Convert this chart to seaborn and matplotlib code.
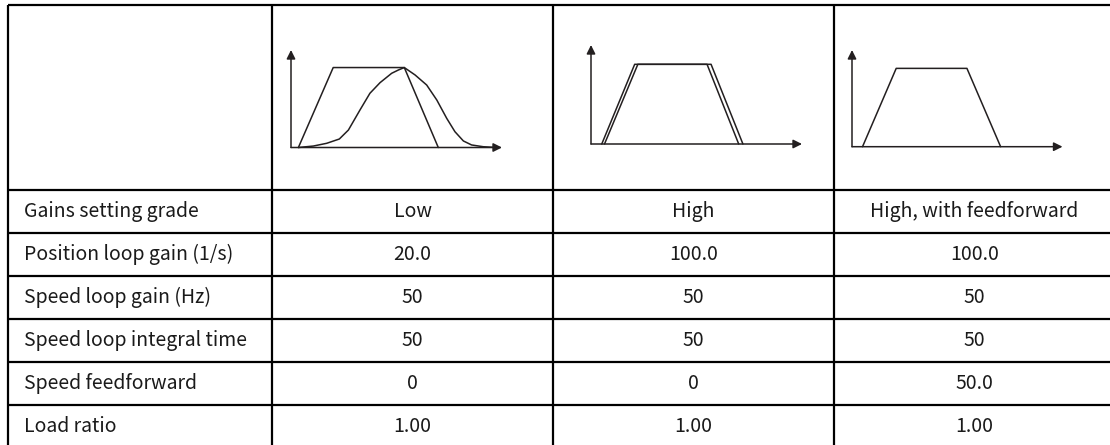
import matplotlib
matplotlib.use("Agg")
import matplotlib.pyplot as plt
import seaborn as sns

sns.set_theme(style="white")
plt.rcParams["font.family"] = ["Noto Sans CJK SC", "DejaVu Sans"]

# Table content
row_labels = [
    "Gains setting grade",
    "Position loop gain (1/s)",
    "Speed loop gain (Hz)",
    "Speed loop integral time",
    "Speed feedforward",
    "Load ratio",
]
col_low = ["Low", "20.0", "50", "50", "0", "1.00"]
col_high = ["High", "100.0", "50", "50", "0", "1.00"]
col_ff = ["High, with feedforward", "100.0", "50", "50", "50.0", "1.00"]

# Speed profiles sketched in the header row (time %, speed %)
low_cmd_t = [3.5, 20, 53.7, 69.8]
low_cmd_v = [0, 82, 82, 0]
low_fb_t = [3.5, 10.6, 16.9, 22.9, 27.2, 32.7, 37.4, 42.2, 47.7, 50.9, 53.7,
            58.8, 64.3, 69.1, 73.8, 77.7, 81.7, 85.6, 91.1, 95.9]
low_fb_v = [0, 1.5, 4.3, 8.7, 17.9, 38.5, 55.6, 66.5, 76.1, 79.5, 82,
            74.4, 64.1, 48.7, 29.9, 16.2, 6.7, 2.6, 0.8, 0.2]
high_cmd_t = [5.1, 20.7, 55, 70]
high_cmd_v = [0, 80.5, 80.5, 0]
high_fb_t = [6.4, 22.2, 56.9, 72]
high_fb_v = [0, 80.5, 80.5, 0]
ff_cmd_t = [5, 21, 54.6, 70.6]
ff_cmd_v = [0, 81, 81, 0]

W, H = 1110, 445
INK = "#231f20"

fig = plt.figure(figsize=(W / 100, H / 100), dpi=100)
ax = fig.add_axes([0, 0, 1, 1])
ax.set_xlim(0, W)
ax.set_ylim(H, 0)
ax.axis("off")

# grid
col_x = [8, 272, 553, 834, 1115]
row_y = [5, 190, 233, 276, 319, 362, 405, 448]
for y in row_y:
    ax.plot([col_x[0], col_x[-1]], [y, y], color="black", lw=1.6, solid_capstyle="butt")
for x in col_x:
    ax.plot([x, x], [row_y[0], row_y[-1]], color="black", lw=1.6, solid_capstyle="butt")

# text cells
for i, lab in enumerate(row_labels):
    yc = (row_y[i + 1] + row_y[i + 2]) / 2
    ax.text(24, yc, lab, ha="left", va="center", fontsize=14, color="#1a1a1a")
    for j, col in enumerate([col_low, col_high, col_ff]):
        xc = (col_x[j + 1] + col_x[j + 2]) / 2
        ax.text(xc, yc, col[i], ha="center", va="center", fontsize=14, color="#1a1a1a")


def mini_chart(x0, y0, x1, y1, series):
    # x0,y0 = origin pixel, x1 = x arrow tip, y1 = y arrow tip
    iax = fig.add_axes([x0 / W, 1 - y0 / H, (x1 - x0) / W, (y0 - y1) / H])
    iax.patch.set_alpha(0)
    for t, v in series:
        sns.lineplot(x=t, y=v, ax=iax, sort=False, estimator=None,
                     color=INK, lw=1.1, clip_on=False)
    iax.set_xlim(0, 100)
    iax.set_ylim(0, 100)
    for s in iax.spines.values():
        s.set_visible(False)
    iax.set_xticks([])
    iax.set_yticks([])
    iax.set_xlabel("")
    iax.set_ylabel("")
    arrow = dict(arrowstyle="-|>", color=INK, lw=1.1, mutation_scale=13,
                 shrinkA=0, shrinkB=0)
    iax.annotate("", xy=(1, 0), xytext=(0, 0), xycoords="axes fraction",
                 textcoords="axes fraction", arrowprops=arrow)
    iax.annotate("", xy=(0, 1), xytext=(0, 0), xycoords="axes fraction",
                 textcoords="axes fraction", arrowprops=arrow)


mini_chart(291, 147.5, 502, 50, [(low_cmd_t, low_cmd_v), (low_fb_t, low_fb_v)])
mini_chart(591, 144, 802, 45, [(high_cmd_t, high_cmd_v), (high_fb_t, high_fb_v)])
mini_chart(852, 146.7, 1062.5, 50, [(ff_cmd_t, ff_cmd_v)])

fig.savefig("out.png", dpi=100)
